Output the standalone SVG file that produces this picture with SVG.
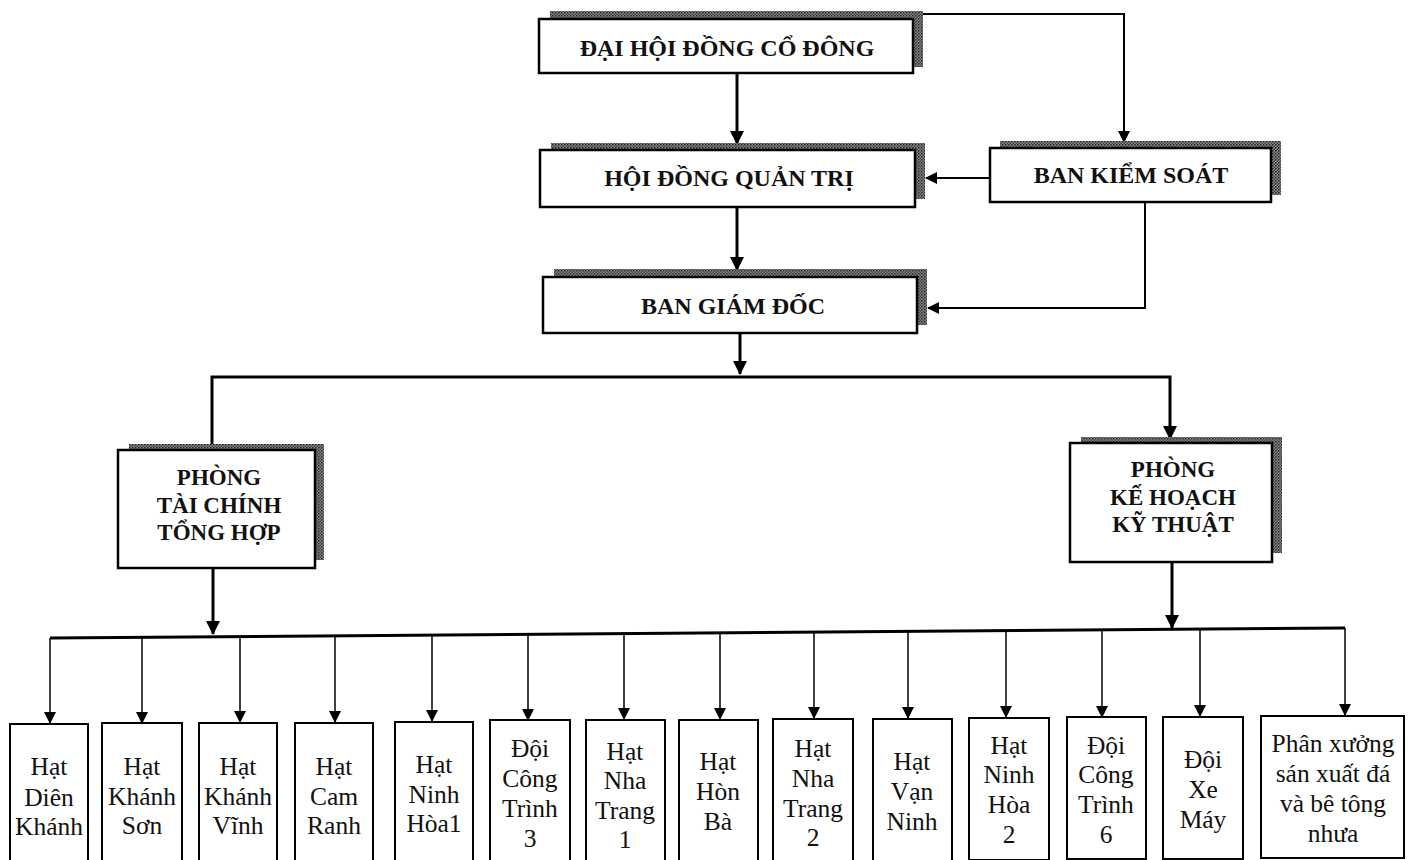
<svg xmlns="http://www.w3.org/2000/svg" width="1412" height="860" viewBox="0 0 1412 860">
<defs>
<pattern id="hatch" width="3" height="3" patternUnits="userSpaceOnUse">
<rect width="3" height="3" fill="#8a8a8a"/>
<rect width="1.5" height="1.5" fill="#222"/>
<rect x="1.5" y="1.5" width="1.5" height="1.5" fill="#444"/>
</pattern>
<marker id="ah" markerWidth="12" markerHeight="12" refX="11" refY="6" orient="auto" markerUnits="userSpaceOnUse" viewBox="0 0 12 12">
<path d="M0,0 L12,6 L0,12 z" fill="#000"/>
</marker>
<marker id="ahs" markerWidth="14" markerHeight="14" refX="13" refY="7" orient="auto" markerUnits="userSpaceOnUse" viewBox="0 0 14 14">
<path d="M0,0 L14,7 L0,14 z" fill="#000"/>
</marker>
</defs>
<style>
.shadow{fill:url(#hatch);stroke:none}
.box{fill:#fff;stroke:#000;stroke-width:2.5}
.sbox{fill:#fff;stroke:#000;stroke-width:2}
.hd{font-family:"Liberation Serif","Times New Roman",serif;font-weight:bold;font-size:24px;fill:#111;text-anchor:middle}
.ph{font-family:"Liberation Serif","Times New Roman",serif;font-weight:bold;font-size:23px;fill:#111;text-anchor:middle}
.sm{font-family:"Liberation Serif","Times New Roman",serif;font-size:25.5px;fill:#111;text-anchor:middle}
.thick{fill:none;stroke:#000;stroke-width:3}
.mid{fill:none;stroke:#000;stroke-width:2}
.thin{fill:none;stroke:#000;stroke-width:1.5}
</style>
<rect width="1412" height="860" fill="#fff"/>

<g id="connectors">
<path class="mid" d="M922,14 H1124 V142" marker-end="url(#ah)"/>
<path class="thick" d="M737,74 V144" marker-end="url(#ahs)"/>
<path class="mid" d="M990,178 H926" marker-end="url(#ah)"/>
<path class="thick" d="M737,207 V270" marker-end="url(#ahs)"/>
<path class="mid" d="M1145,202 V308 H928" marker-end="url(#ah)"/>
<path class="thick" d="M740,333 V374" marker-end="url(#ahs)"/>
<path class="thick" d="M212,446 V377 H1170 V439" marker-end="url(#ahs)"/>
<path class="thick" d="M213,568 V634" marker-end="url(#ahs)"/>
<path class="thick" d="M1172,562 V628" marker-end="url(#ahs)"/>
<path class="thick" d="M50,638 L1345,628"/>
<path class="thin" d="M50,638 V723" marker-end="url(#ah)"/>
<path class="thin" d="M142,637 V723" marker-end="url(#ah)"/>
<path class="thin" d="M240,636 V722" marker-end="url(#ah)"/>
<path class="thin" d="M335,636 V722" marker-end="url(#ah)"/>
<path class="thin" d="M432,635 V721" marker-end="url(#ah)"/>
<path class="thin" d="M528,634 V720" marker-end="url(#ah)"/>
<path class="thin" d="M624,633 V719" marker-end="url(#ah)"/>
<path class="thin" d="M720,633 V719" marker-end="url(#ah)"/>
<path class="thin" d="M814,632 V718" marker-end="url(#ah)"/>
<path class="thin" d="M908,631 V718" marker-end="url(#ah)"/>
<path class="thin" d="M1006,631 V717" marker-end="url(#ah)"/>
<path class="thin" d="M1102,630 V717" marker-end="url(#ah)"/>
<path class="thin" d="M1200,629 V716" marker-end="url(#ah)"/>
<path class="thin" d="M1345,628 V715" marker-end="url(#ah)"/>
</g>

<g id="dai-hoi-dong-co-dong">
<rect class="shadow" x="550" y="11" width="373" height="56"/>
<rect class="box" x="539" y="19" width="374" height="54"/>
<text class="hd" x="727" y="56">ĐẠI HỘI ĐỒNG CỔ ĐÔNG</text>
</g>

<g id="hoi-dong-quan-tri">
<rect class="shadow" x="551" y="143" width="374" height="56"/>
<rect class="box" x="540" y="150" width="375" height="57"/>
<text class="hd" x="729" y="186">HỘI ĐỒNG QUẢN TRỊ</text>
</g>

<g id="ban-kiem-soat">
<rect class="shadow" x="1000" y="141" width="281" height="54"/>
<rect class="box" x="990" y="148" width="281" height="54"/>
<text class="hd" x="1131" y="183">BAN KIỂM SOÁT</text>
</g>

<g id="ban-giam-doc">
<rect class="shadow" x="554" y="269" width="373" height="56"/>
<rect class="box" x="543" y="277" width="374" height="56"/>
<text class="hd" x="733" y="314">BAN GIÁM ĐỐC</text>
</g>

<g id="phong-tai-chinh-tong-hop">
<rect class="shadow" x="129" y="444" width="195" height="116"/>
<rect class="box" x="118" y="450" width="197" height="118"/>
<text class="ph" x="219" y="485">PHÒNG</text>
<text class="ph" x="219" y="513">TÀI CHÍNH</text>
<text class="ph" x="219" y="540">TỔNG HỢP</text>
</g>

<g id="phong-ke-hoach-ky-thuat">
<rect class="shadow" x="1081" y="437" width="201" height="116"/>
<rect class="box" x="1070" y="443" width="202" height="119"/>
<text class="ph" x="1173" y="477">PHÒNG</text>
<text class="ph" x="1173" y="505">KẾ HOẠCH</text>
<text class="ph" x="1173" y="532">KỸ THUẬT</text>
</g>

<g id="hat-dien-khanh">
<rect class="sbox" x="10" y="724" width="78" height="140"/>
<text class="sm" x="49" y="775">Hạt</text><text class="sm" x="49" y="806">Diên</text><text class="sm" x="49" y="835">Khánh</text>
</g>
<g id="hat-khanh-son">
<rect class="sbox" x="102" y="723" width="80" height="140"/>
<text class="sm" x="142" y="775">Hạt</text><text class="sm" x="142" y="805">Khánh</text><text class="sm" x="142" y="834">Sơn</text>
</g>
<g id="hat-khanh-vinh">
<rect class="sbox" x="199" y="723" width="78" height="140"/>
<text class="sm" x="238" y="775">Hạt</text><text class="sm" x="238" y="805">Khánh</text><text class="sm" x="238" y="834">Vĩnh</text>
</g>
<g id="hat-cam-ranh">
<rect class="sbox" x="295" y="723" width="78" height="140"/>
<text class="sm" x="334" y="775">Hạt</text><text class="sm" x="334" y="805">Cam</text><text class="sm" x="334" y="834">Ranh</text>
</g>
<g id="hat-ninh-hoa-1">
<rect class="sbox" x="395" y="722" width="78" height="140"/>
<text class="sm" x="434" y="773">Hạt</text><text class="sm" x="434" y="803">Ninh</text><text class="sm" x="434" y="832">Hòa1</text>
</g>
<g id="doi-cong-trinh-3">
<rect class="sbox" x="490" y="720" width="80" height="142"/>
<text class="sm" x="530" y="757">Đội</text><text class="sm" x="530" y="787">Công</text><text class="sm" x="530" y="817">Trình</text><text class="sm" x="530" y="847">3</text>
</g>
<g id="hat-nha-trang-1">
<rect class="sbox" x="586" y="720" width="79" height="142"/>
<text class="sm" x="625" y="760">Hạt</text><text class="sm" x="625" y="789">Nha</text><text class="sm" x="625" y="819">Trang</text><text class="sm" x="625" y="848">1</text>
</g>
<g id="hat-hon-ba">
<rect class="sbox" x="679" y="720" width="79" height="142"/>
<text class="sm" x="718" y="770">Hạt</text><text class="sm" x="718" y="800">Hòn</text><text class="sm" x="718" y="830">Bà</text>
</g>
<g id="hat-nha-trang-2">
<rect class="sbox" x="773" y="719" width="80" height="142"/>
<text class="sm" x="813" y="757">Hạt</text><text class="sm" x="813" y="787">Nha</text><text class="sm" x="813" y="817">Trang</text><text class="sm" x="813" y="846">2</text>
</g>
<g id="hat-van-ninh">
<rect class="sbox" x="873" y="719" width="79" height="142"/>
<text class="sm" x="912" y="770">Hạt</text><text class="sm" x="912" y="800">Vạn</text><text class="sm" x="912" y="830">Ninh</text>
</g>
<g id="hat-ninh-hoa-2">
<rect class="sbox" x="969" y="718" width="80" height="142"/>
<text class="sm" x="1009" y="754">Hạt</text><text class="sm" x="1009" y="783">Ninh</text><text class="sm" x="1009" y="813">Hòa</text><text class="sm" x="1009" y="843">2</text>
</g>
<g id="doi-cong-trinh-6">
<rect class="sbox" x="1067" y="717" width="79" height="142"/>
<text class="sm" x="1106" y="754">Đội</text><text class="sm" x="1106" y="783">Công</text><text class="sm" x="1106" y="813">Trình</text><text class="sm" x="1106" y="843">6</text>
</g>
<g id="doi-xe-may">
<rect class="sbox" x="1163" y="717" width="80" height="142"/>
<text class="sm" x="1203" y="768">Đội</text><text class="sm" x="1203" y="798">Xe</text><text class="sm" x="1203" y="828">Máy</text>
</g>
<g id="phan-xuong">
<rect class="sbox" x="1261" y="716" width="143" height="142"/>
<text class="sm" x="1333" y="752">Phân xưởng</text><text class="sm" x="1333" y="782">sán xuất đá</text><text class="sm" x="1333" y="812">và bê tông</text><text class="sm" x="1333" y="842">nhưa</text>
</g>
</svg>
